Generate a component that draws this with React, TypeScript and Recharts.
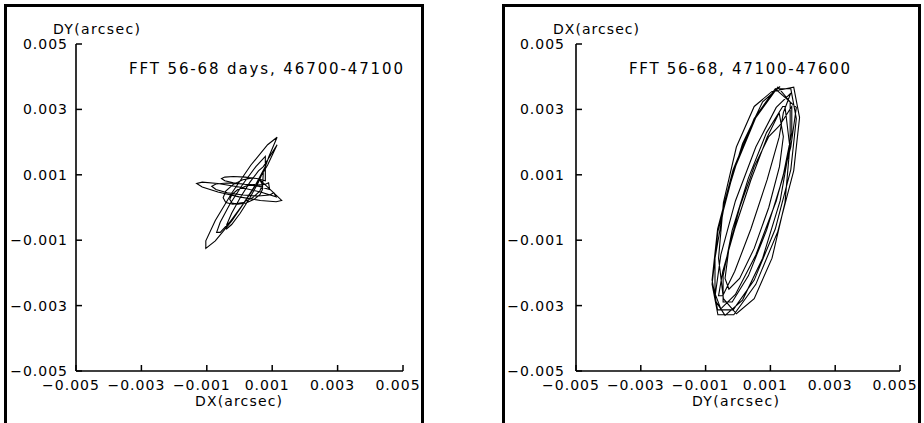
import React from 'react';
import { ScatterChart, Scatter, XAxis, YAxis } from 'recharts';

// Axis ticks and domain, in milliarcseconds (labels are shown in arcsec)
const TICKS_MAS = [-5, -3, -1, 1, 3, 5];
const DOMAIN_MAS: [number, number] = [-5, 5];

const leftTitle = 'FFT 56-68 days, 46700-47100';
const rightTitle = 'FFT 56-68, 47100-47600';
const leftXLabel = 'DX(arcsec)';
const leftYLabel = 'DY(arcsec)';
const rightXLabel = 'DY(arcsec)';
const rightYLabel = 'DX(arcsec)';

// Left panel: DX (horizontal) vs DY (vertical), mas
const leftDX = [
  0.40, 0.10, -0.20, -0.42, -0.50, -0.42, -0.20, 0.10, 0.40, 0.62, 0.70, 0.62,
  1.29, 1.12, 0.64, -0.01, -0.66, -1.14, -1.31, -1.14, -0.66, -0.01, 0.64, 1.12,
  1.05, 0.92, 0.575, 0.10, -0.375, -0.72, -0.85, -0.72, -0.375, 0.10, 0.575, 0.92,
  0.89, 0.79, 0.53, 0.17, -0.19, -0.45, -0.55, -0.45, -0.19, 0.17, 0.53, 0.79,
  0.79, 0.50, 0.10, -0.30, -0.59, -0.70, -0.59, -0.30, 0.10, 0.50, 0.79, 0.90,
  1.15, 0.86, 0.35, -0.23, -0.74, -1.03, -1.03, -0.74, -0.23, 0.35, 0.86, 1.15,
  0.73, 0.58, 0.32, 0.02, -0.24, -0.39, -0.39, -0.24, 0.02, 0.32, 0.58, 0.73,
  0.70, 0.63, 0.45, 0.20, -0.05, -0.23, -0.30, -0.23, -0.05, 0.20, 0.45, 0.63, 0.70,
];
const leftDY = [
  0.90, 0.85, 0.70, 0.50, 0.30, 0.15, 0.10, 0.15, 0.30, 0.50, 0.70, 0.85,
  0.215, 0.175, 0.215, 0.325, 0.475, 0.625, 0.735, 0.775, 0.735, 0.625, 0.475, 0.325,
  0.45, 0.38, 0.35, 0.38, 0.45, 0.55, 0.65, 0.72, 0.75, 0.72, 0.65, 0.55,
  0.755, 0.71, 0.69, 0.71, 0.755, 0.82, 0.885, 0.93, 0.95, 0.93, 0.885, 0.82,
  1.56, 1.25, 0.71, 0.09, -0.45, -0.76, -0.76, -0.45, 0.09, 0.71, 1.25, 1.56,
  2.15, 1.92, 1.30, 0.45, -0.40, -1.02, -1.25, -1.02, -0.40, 0.45, 1.30, 1.92,
  1.25, 1.12, 0.775, 0.30, -0.175, -0.52, -0.65, -0.52, -0.175, 0.30, 0.775, 1.12,
  0.55, 0.40, 0.25, 0.14, 0.10, 0.14, 0.25, 0.40, 0.55, 0.66, 0.70, 0.66, 0.55,
];

// Right panel: DY (horizontal) vs DX (vertical), mas
const rightDY = [
  1.30, 0.76, 0.14, -0.40, -0.71, -0.71, -0.40, 0.14, 0.76, 1.30, 1.61, 1.61,
  1.23, 0.55, -0.13, -0.62, -0.80, -0.62, -0.13, 0.55, 1.23, 1.72, 1.90, 1.72,
  1.05, 0.50, -0.05, -0.45, -0.60, -0.45, -0.05, 0.50, 1.05, 1.45, 1.60, 1.45,
  1.38, 0.88, 0.32, -0.18, -0.46, -0.46, -0.18, 0.32, 0.88, 1.38, 1.66, 1.66,
  1.28, 0.95, 0.50, 0.05, -0.28, -0.40, -0.28, 0.05, 0.50, 0.95, 1.28, 1.40,
  1.27, 0.90, 0.40, -0.10, -0.47, -0.60, -0.47, -0.10, 0.40, 0.90, 1.27, 1.40,
  1.63, 1.18, 0.55, -0.08, -0.53, -0.70, -0.53, -0.08, 0.55, 1.18, 1.63, 1.80,
  1.15, 0.50, -0.15, -0.63, -0.80, -0.63, -0.15, 0.50, 1.15, 1.63, 1.80, 1.63, 1.15,
];
const rightDX = [
  3.70, 3.23, 1.95, 0.20, -1.55, -2.83, -3.30, -2.83, -1.55, 0.20, 1.95, 3.23,
  3.68, 2.75, 1.13, -0.73, -2.35, -3.28, -3.28, -2.35, -0.73, 1.13, 2.75, 3.68,
  3.55, 3.09, 1.85, 0.15, -1.55, -2.79, -3.25, -2.79, -1.55, 0.15, 1.85, 3.09,
  3.09, 2.29, 0.90, -0.70, -2.09, -2.89, -2.89, -2.09, -0.70, 0.90, 2.29, 3.09,
  2.50, 2.17, 1.25, 0.00, -1.25, -2.17, -2.50, -2.17, -1.25, 0.00, 1.25, 2.17,
  2.90, 2.15, 0.85, -0.65, -1.95, -2.70, -2.70, -1.95, -0.65, 0.85, 2.15, 2.90,
  3.50, 3.06, 1.85, 0.20, -1.45, -2.66, -3.10, -2.66, -1.45, 0.20, 1.85, 3.06,
  3.63, 2.72, 1.16, -0.66, -2.22, -3.13, -3.13, -2.22, -0.66, 1.16, 2.72, 3.63, 3.63,
];

const leftData = leftDX.map((x, i) => ({ x, y: leftDY[i] }));
const rightData = rightDY.map((x, i) => ({ x, y: rightDX[i] }));

const FONT = '"DejaVu Sans", Verdana, sans-serif';
const fmt = (v: number) => (v / 1000).toFixed(3).replace('-', '\u2212');
const axisLineStyle = { stroke: '#000', strokeWidth: 1.6 };
const NoDot = () => <g />;
const TICK_LEN = 6;

function YTick(props: any) {
  const { x, y, payload, margin } = props;
  const ax = x + margin;
  return (
    <g>
      <path d={`M${ax},${y}h${TICK_LEN}`} stroke="#000" strokeWidth={1.5} fill="none" />
      <text x={x} y={y} dy="0.355em" textAnchor="end" fontSize={14} fontFamily={FONT} letterSpacing={1} fill="#000">
        {fmt(payload.value)}
      </text>
    </g>
  );
}

function XTick(props: any) {
  const { x, y, payload, margin } = props;
  const ay = y - margin;
  return (
    <g>
      <path d={`M${x},${ay}v${-TICK_LEN}`} stroke="#000" strokeWidth={1.5} fill="none" />
      <text x={x - 5} y={y} dy="0.71em" textAnchor="middle" fontSize={14} fontFamily={FONT} letterSpacing={1} fill="#000">
        {fmt(payload.value)}
      </text>
    </g>
  );
}

type PanelProps = {
  data: { x: number; y: number }[];
  left: number;
  rightMargin: number;
  yAxisWidth: number;
  yTickMargin: number;
};

const X_TICK_MARGIN = 9;

function Panel({ data, left, rightMargin, yAxisWidth, yTickMargin }: PanelProps) {
  return (
    <div style={{ position: 'absolute', left, top: 0 }}>
      <ScatterChart width={462} height={423} margin={{ top: 44, right: rightMargin, bottom: 0, left: 0 }}>
        <XAxis
          type="number"
          dataKey="x"
          domain={DOMAIN_MAS}
          ticks={TICKS_MAS}
          allowDataOverflow
          height={52}
          tickSize={0}
          tickMargin={X_TICK_MARGIN}
          axisLine={axisLineStyle}
          tickLine={false}
          tick={<XTick margin={X_TICK_MARGIN} />}
        />
        <YAxis
          type="number"
          dataKey="y"
          domain={DOMAIN_MAS}
          ticks={TICKS_MAS}
          allowDataOverflow
          width={yAxisWidth}
          tickSize={0}
          tickMargin={yTickMargin}
          axisLine={axisLineStyle}
          tickLine={false}
          tick={<YTick margin={yTickMargin} />}
        />
        <Scatter
          data={data}
          line={{ stroke: '#000', strokeWidth: 1.1 }}
          lineType="joint"
          shape={NoDot}
          isAnimationActive={false}
        />
      </ScatterChart>
    </div>
  );
}

export default function App() {
  const textStyle = { fontFamily: FONT, fill: '#000' } as const;
  return (
    <div style={{ position: 'absolute', left: 0, top: 0, width: 924, height: 423, overflow: 'hidden', background: '#fff' }}>
      <div style={{ position: 'absolute', left: 4, top: 4, width: 420, height: 419, boxSizing: 'border-box', border: '3px solid #000', borderBottom: 'none' }} />
      <div style={{ position: 'absolute', left: 502, top: 4, width: 419, height: 419, boxSizing: 'border-box', border: '3px solid #000', borderBottom: 'none' }} />
      <Panel data={leftData} left={0} rightMargin={59} yAxisWidth={76} yTickMargin={8} />
      <Panel data={rightData} left={462} rightMargin={24} yAxisWidth={114} yTickMargin={11} />
      <svg width={924} height={423} style={{ position: 'absolute', left: 0, top: 0, pointerEvents: 'none' }}>
        <text x={129} y={74} fontSize={15} textLength={274} {...textStyle}>{leftTitle}</text>
        <text x={629} y={74} fontSize={15} textLength={221} {...textStyle}>{rightTitle}</text>
        <text x={53} y={34} fontSize={14} textLength={87} {...textStyle}>{leftYLabel}</text>
        <text x={195} y={406} fontSize={14} textLength={87} {...textStyle}>{leftXLabel}</text>
        <text x={553} y={34} fontSize={14} textLength={86} {...textStyle}>{rightYLabel}</text>
        <text x={692} y={406} fontSize={14} textLength={87} {...textStyle}>{rightXLabel}</text>
      </svg>
    </div>
  );
}
